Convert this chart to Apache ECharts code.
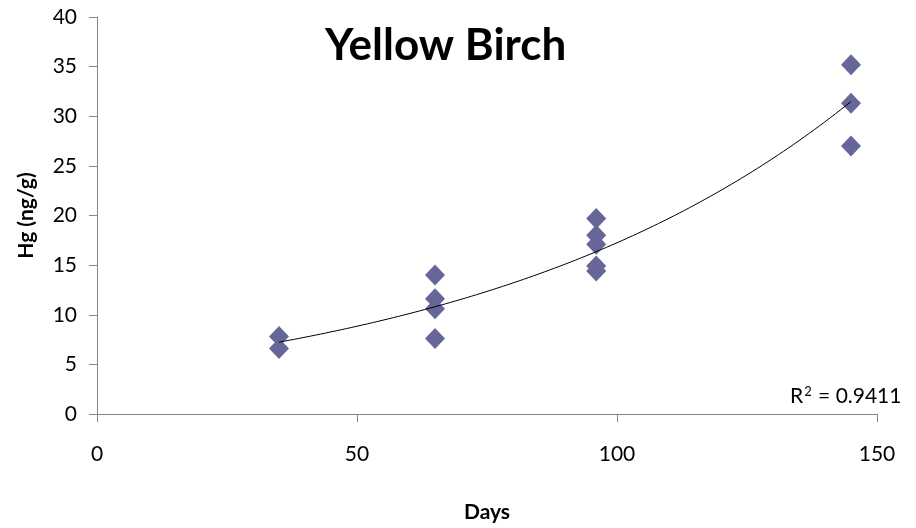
<!DOCTYPE html>
<html>
<head>
<meta charset="utf-8">
<script src="https://cdn.jsdelivr.net/npm/echarts@6/dist/echarts.min.js"></script>
<style>
  html, body { margin: 0; padding: 0; background: #fff; }
  #chart { width: 916px; height: 528px; }
</style>
</head>
<body>
<div id="chart"></div>
<script>
// Sampling day for each measurement
const days = [35, 35, 65, 65, 65, 65, 96, 96, 96, 96, 96, 145, 145, 145];
// Foliar mercury concentration, ng/g
const hg = [7.8, 6.6, 14.0, 11.6, 10.6, 7.6, 19.7, 18.0, 17.1, 14.9, 14.4, 35.2, 31.3, 27.0];
const xTicks = [0, 50, 100, 150];
const yTicks = [0, 5, 10, 15, 20, 25, 30, 35, 40];
const rSquared = '0.9411';

const FONT = 'Lato, "Open Sans", sans-serif';

// Exponential trendline y = a·e^(b·x), least squares on ln(y)
function expFit(xs, ys) {
  const n = xs.length;
  const ly = ys.map(Math.log);
  const mx = xs.reduce((s, v) => s + v, 0) / n;
  const my = ly.reduce((s, v) => s + v, 0) / n;
  let sxy = 0, sxx = 0;
  for (let i = 0; i < n; i++) {
    sxy += (xs[i] - mx) * (ly[i] - my);
    sxx += (xs[i] - mx) * (xs[i] - mx);
  }
  const b = sxy / sxx;
  const a = Math.exp(my - b * mx);
  return x => a * Math.exp(b * x);
}
const fit = expFit(days, hg);
const xMin = Math.min(...days), xMax = Math.max(...days);
const trend = [];
for (let x = xMin; x <= xMax + 1e-9; x += 1) trend.push([x, fit(x)]);

const points = days.map((d, i) => [d, hg[i]]);

const chart = echarts.init(document.getElementById('chart'), null, { renderer: 'canvas' });
chart.setOption({
  animation: false,
  backgroundColor: '#ffffff',
  grid: { left: 97, right: 39, top: 17, bottom: 101, containLabel: false },
  xAxis: {
    type: 'value',
    min: xTicks[0], max: xTicks[xTicks.length - 1], interval: 50,
    name: 'Days', nameLocation: 'middle', nameGap: 88,
    nameTextStyle: { fontFamily: FONT, fontWeight: 'bold', fontSize: 21, color: '#000' },
    axisLine: { show: true, lineStyle: { color: '#868686', width: 1 } },
    axisTick: { show: true, length: 8, lineStyle: { color: '#868686' } },
    axisLabel: { fontFamily: FONT, fontSize: 21, color: '#000', margin: 30 },
    splitLine: { show: false }
  },
  yAxis: {
    type: 'value',
    min: yTicks[0], max: yTicks[yTicks.length - 1], interval: 5,
    name: 'Hg (ng/g)', nameLocation: 'middle', nameGap: 60, nameRotate: 90,
    nameTextStyle: { fontFamily: FONT, fontWeight: 'bold', fontSize: 21, color: '#000' },
    axisLine: { show: true, lineStyle: { color: '#868686', width: 1 } },
    axisTick: { show: true, length: 8, lineStyle: { color: '#868686' } },
    axisLabel: { fontFamily: FONT, fontSize: 21, color: '#000', margin: 20 },
    splitLine: { show: false }
  },
  graphic: [
    {
      type: 'text', left: 446 - 121, top: 24,
      style: { text: 'Yellow Birch', fontFamily: FONT, fontWeight: 'bold', fontSize: 44, fill: '#000' }
    },
    {
      type: 'text', left: 790, top: 385,
      style: {
        text: '{r|R}{s|2}{r| = ' + rSquared + '}',
        rich: {
          r: { fontFamily: FONT, fontSize: 21, fill: '#000', verticalAlign: 'bottom' },
          s: { fontFamily: FONT, fontSize: 13, fill: '#000', verticalAlign: 'top', padding: [0, 1, 9, 1] }
        }
      }
    }
  ],
  series: [
    {
      type: 'scatter',
      data: points,
      symbol: 'diamond',
      symbolSize: [20, 21],
      itemStyle: { color: '#666699', opacity: 1 },
      z: 2
    },
    {
      type: 'line',
      data: trend,
      showSymbol: false,
      smooth: false,
      lineStyle: { color: '#000', width: 1 },
      z: 3
    }
  ]
});
</script>
</body>
</html>
